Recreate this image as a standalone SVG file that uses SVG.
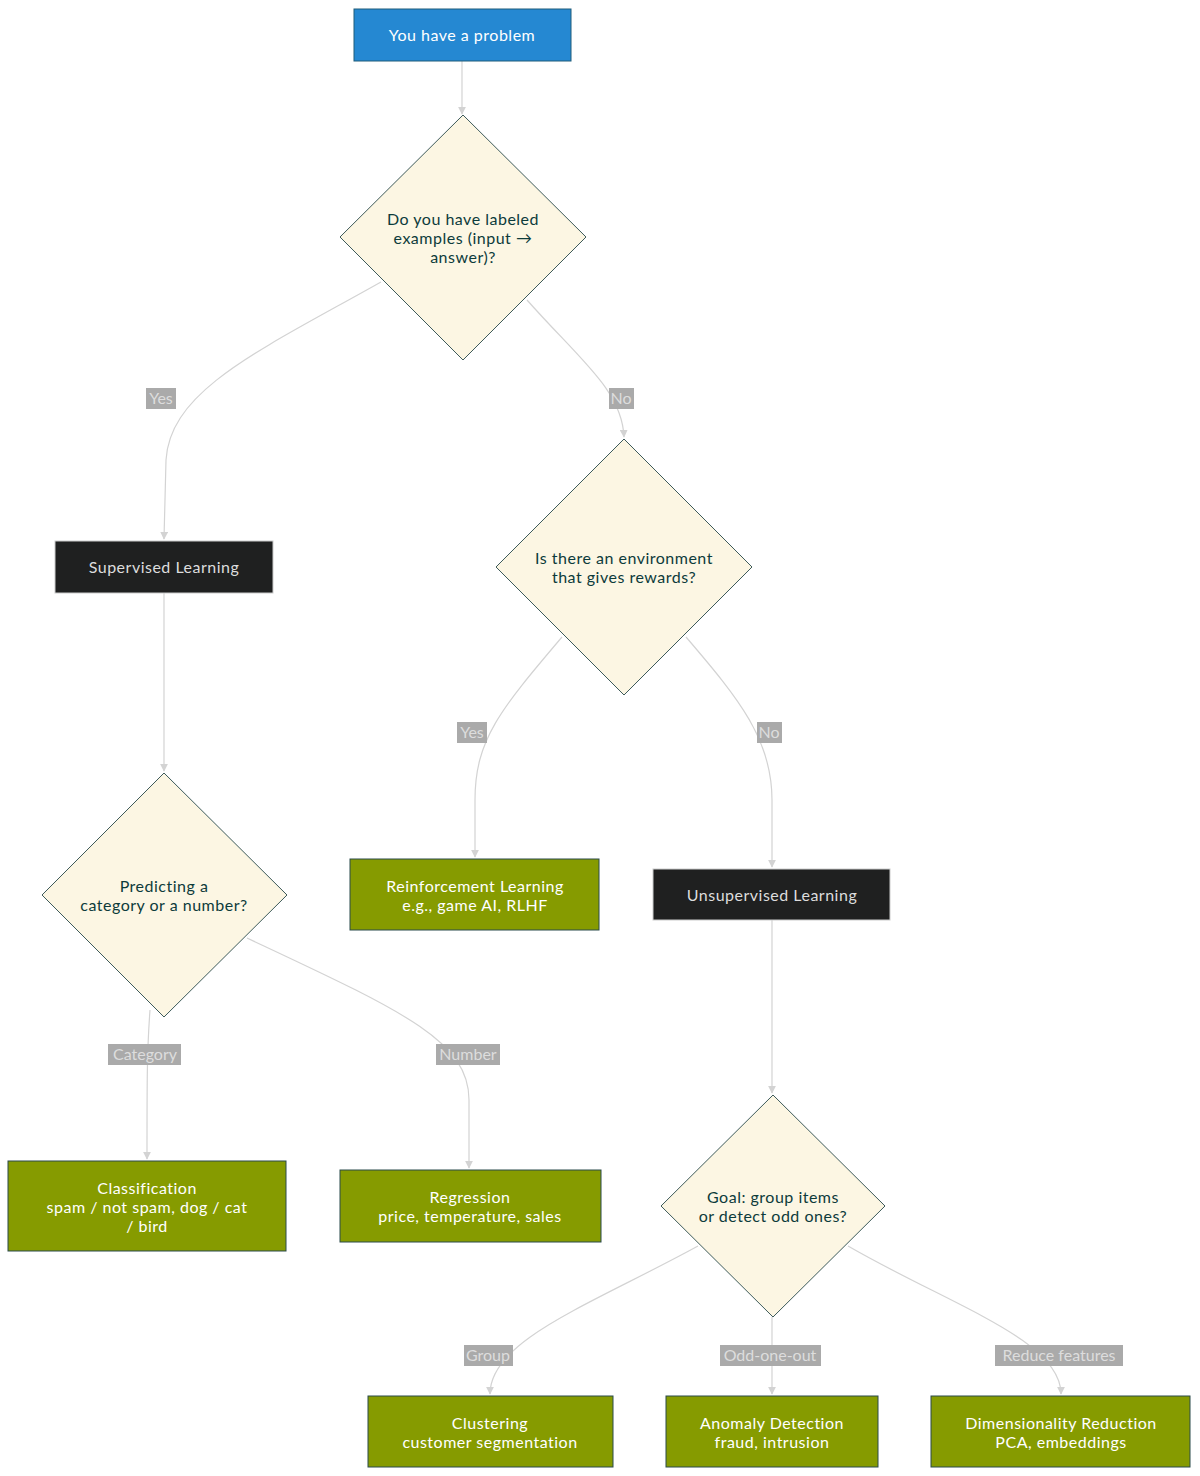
<svg xmlns="http://www.w3.org/2000/svg" width="1200" height="1476" viewBox="0 0 1200 1476">
<style>
text{font-family:"Lato","Liberation Sans",sans-serif;font-size:16px;letter-spacing:0.5px;text-anchor:middle}
.blue{fill:#2588d2;stroke:#1f5c7a;stroke-width:1}
.dark{fill:#1f2020;stroke:#cccccc;stroke-width:1}
.dia{fill:#fcf6e3;stroke:#3d5a5a;stroke-width:1}
.green{fill:#869b00;stroke:#2a4a4a;stroke-width:1}
.tw{fill:#ffffff}
.tl{fill:#dddddd}
.td{fill:#0d3b3b}
.edge{fill:none;stroke:#d3d3d3;stroke-width:1.2}
.lbg{fill:#aaaaaa}
.lt{fill:#dddddd;letter-spacing:0}
</style>
<defs>
<marker id="arr" viewBox="0 0 10 10" refX="9" refY="5" markerWidth="8" markerHeight="8" orient="auto" markerUnits="userSpaceOnUse">
<path d="M0,0 L10,5 L0,10 z" fill="#d3d3d3"/>
</marker>
</defs>
<rect width="1200" height="1476" fill="#ffffff"/>
<g id="connectors">
<path class="edge" d="M462,61 L462,114" marker-end="url(#arr)"/>
<path class="edge" d="M381,282 C260,350 170,390 166,460 L164,539" marker-end="url(#arr)"/>
<path class="edge" d="M527,300 C580,360 622,390 624,437" marker-end="url(#arr)"/>
<path class="edge" d="M164,593 L164,771" marker-end="url(#arr)"/>
<path class="edge" d="M562,637 C500,710 475,740 475,800 L475,857" marker-end="url(#arr)"/>
<path class="edge" d="M686,637 C740,700 772,740 772,800 L772,867" marker-end="url(#arr)"/>
<path class="edge" d="M772,920 L772,1093" marker-end="url(#arr)"/>
<path class="edge" d="M150,1010 C147,1050 147,1080 147,1159" marker-end="url(#arr)"/>
<path class="edge" d="M247,938 C400,1010 469,1040 469,1100 L469,1168" marker-end="url(#arr)"/>
<path class="edge" d="M698,1246 C590,1305 490,1340 490,1394" marker-end="url(#arr)"/>
<path class="edge" d="M772,1317 L772,1394" marker-end="url(#arr)"/>
<path class="edge" d="M848,1246 C950,1305 1061,1340 1061,1394" marker-end="url(#arr)"/>
<g id="edge-labels">
<rect class="lbg" x="146" y="388" width="30" height="21"/><text class="lt" x="161" y="404">Yes</text>
<rect class="lbg" x="609" y="388" width="25" height="21"/><text class="lt" x="621" y="404">No</text>
<rect class="lbg" x="457" y="722" width="30" height="21"/><text class="lt" x="472" y="738">Yes</text>
<rect class="lbg" x="757" y="722" width="25" height="21"/><text class="lt" x="769" y="738">No</text>
<rect class="lbg" x="108" y="1044" width="73" height="21"/><text class="lt" x="145" y="1060">Category</text>
<rect class="lbg" x="436" y="1044" width="64" height="21"/><text class="lt" x="468" y="1060">Number</text>
<rect class="lbg" x="464" y="1345" width="49" height="21"/><text class="lt" x="488" y="1361">Group</text>
<rect class="lbg" x="720" y="1345" width="101" height="21"/><text class="lt" x="770" y="1361">Odd-one-out</text>
<rect class="lbg" x="995" y="1345" width="128" height="21"/><text class="lt" x="1059" y="1361">Reduce features</text>
</g>
</g>
<g id="problem">
<rect class="blue" x="354" y="9" width="217" height="52"/>
<text class="tw" x="462" y="41">You have a problem</text>
</g>
<g id="labeled">
<polygon class="dia" points="463,115 586,237 463,360 340,237"/>
<text class="td" x="463" y="225">Do you have labeled</text>
<text class="td" x="463" y="244">examples (input →</text>
<text class="td" x="463" y="263">answer)?</text>
</g>
<g id="supervised">
<rect class="dark" x="55" y="541" width="218" height="52"/>
<text class="tl" x="164" y="573">Supervised Learning</text>
</g>
<g id="environment">
<polygon class="dia" points="624,439 752,567 624,695 496,567"/>
<text class="td" x="624" y="564">Is there an environment</text>
<text class="td" x="624" y="583">that gives rewards?</text>
</g>
<g id="predicting">
<polygon class="dia" points="164,773 287,895 164,1017 42,895"/>
<text class="td" x="164" y="892">Predicting a</text>
<text class="td" x="164" y="911">category or a number?</text>
</g>
<g id="reinforcement">
<rect class="green" x="350" y="859" width="249" height="71"/>
<text class="tw" x="475" y="892">Reinforcement Learning</text>
<text class="tw" x="475" y="911">e.g., game AI, RLHF</text>
</g>
<g id="unsupervised">
<rect class="dark" x="653" y="869" width="237" height="51"/>
<text class="tl" x="772" y="901">Unsupervised Learning</text>
</g>
<g id="goal">
<polygon class="dia" points="773,1095 885,1206 773,1317 661,1206"/>
<text class="td" x="773" y="1203">Goal: group items</text>
<text class="td" x="773" y="1222">or detect odd ones?</text>
</g>
<g id="classification">
<rect class="green" x="8" y="1161" width="278" height="90"/>
<text class="tw" x="147" y="1194">Classification</text>
<text class="tw" x="147" y="1213">spam / not spam, dog / cat</text>
<text class="tw" x="147" y="1232">/ bird</text>
</g>
<g id="regression">
<rect class="green" x="340" y="1170" width="261" height="72"/>
<text class="tw" x="470" y="1203">Regression</text>
<text class="tw" x="470" y="1222">price, temperature, sales</text>
</g>
<g id="clustering">
<rect class="green" x="368" y="1396" width="245" height="71"/>
<text class="tw" x="490" y="1429">Clustering</text>
<text class="tw" x="490" y="1448">customer segmentation</text>
</g>
<g id="anomaly">
<rect class="green" x="666" y="1396" width="212" height="71"/>
<text class="tw" x="772" y="1429">Anomaly Detection</text>
<text class="tw" x="772" y="1448">fraud, intrusion</text>
</g>
<g id="dimred">
<rect class="green" x="931" y="1396" width="259" height="71"/>
<text class="tw" x="1061" y="1429">Dimensionality Reduction</text>
<text class="tw" x="1061" y="1448">PCA, embeddings</text>
</g>
</svg>
